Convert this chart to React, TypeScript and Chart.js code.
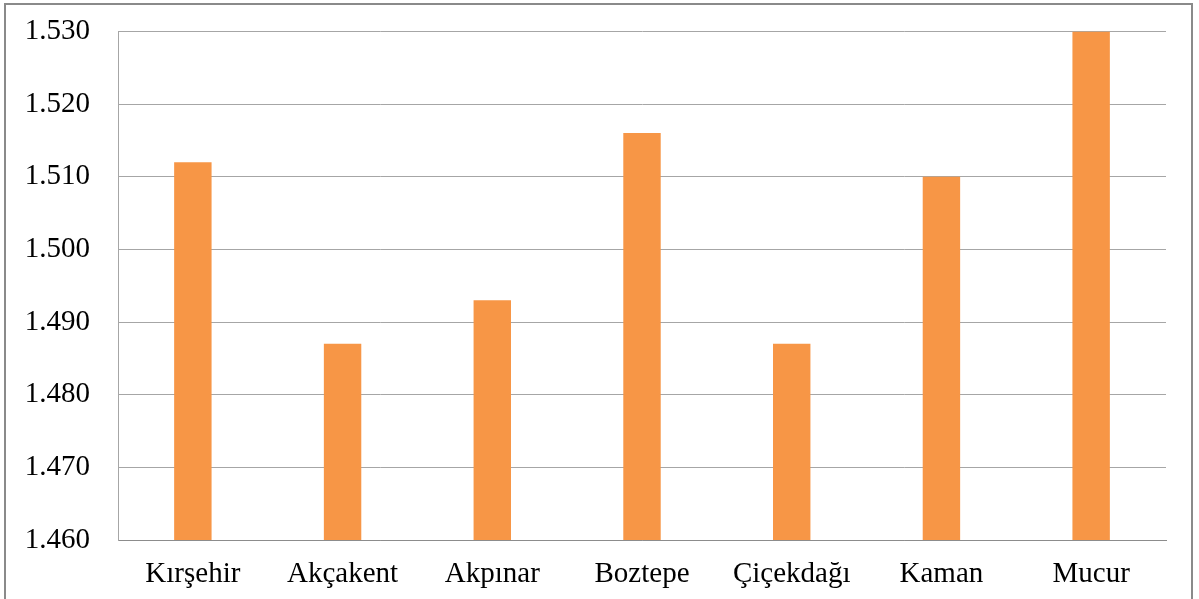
import React, { useEffect, useRef } from "react";
import { Chart, registerables } from "chart.js";

Chart.register(...registerables);

const categories = ["Kırşehir", "Akçakent", "Akpınar", "Boztepe", "Çiçekdağı", "Kaman", "Mucur"];
const values = [1.512, 1.487, 1.493, 1.516, 1.487, 1.51, 1.53];
const yMin = 1.46;
const yMax = 1.53;
const yStep = 0.01;

const FONT = "'Liberation Serif', 'Times New Roman', serif";

export default function App() {
  const canvasRef = useRef<HTMLCanvasElement | null>(null);

  useEffect(() => {
    const prevMargin = document.body.style.margin;
    document.body.style.margin = "0";
    const canvas = canvasRef.current;
    if (!canvas) return;
    const chart = new Chart(canvas, {
      type: "bar",
      data: {
        labels: categories,
        datasets: [
          {
            data: values,
            backgroundColor: "#F79646",
            borderWidth: 0,
            categoryPercentage: 1,
            barPercentage: 0.25,
          },
        ],
      },
      options: {
        animation: false,
        responsive: false,
        maintainAspectRatio: false,
        layout: { padding: { left: 0, right: 33, top: 17, bottom: 0 } },
        plugins: {
          legend: { display: false },
          tooltip: { enabled: false },
        },
        scales: {
          x: {
            grid: { display: false, drawTicks: false },
            border: { display: true, color: "#8c8c8c", width: 1 },
            ticks: {
              color: "#000",
              font: { family: FONT, size: 29 },
              padding: 17,
              maxRotation: 0,
              autoSkip: false,
            },
            afterFit: (scale: any) => {
              scale.height = 59;
            },
          },
          y: {
            min: yMin,
            max: yMax,
            grid: { color: "#a6a6a6", lineWidth: 1, drawTicks: false },
            border: { display: true, color: "#a6a6a6", width: 1 },
            ticks: {
              stepSize: yStep,
              color: "#000",
              font: { family: FONT, size: 29 },
              padding: 28,
              callback: (v: any) => Number(v).toFixed(3),
            },
            afterFit: (scale: any) => {
              scale.width = 118;
            },
          },
        },
      },
    });
    return () => {
      chart.destroy();
      document.body.style.margin = prevMargin;
    };
  }, []);

  return (
    <div style={{ position: "fixed", left: 0, top: 0, width: 1199, height: 599, background: "#fff", overflow: "hidden" }}>
      <canvas ref={canvasRef} width={1199} height={613} style={{ position: "absolute", left: 0, top: -14 }} />
      <div
        style={{
          position: "absolute",
          left: 4,
          top: 3,
          width: 1189,
          height: 620,
          border: "2px solid #8a8a8a",
          boxSizing: "border-box",
          pointerEvents: "none",
        }}
      />
    </div>
  );
}
